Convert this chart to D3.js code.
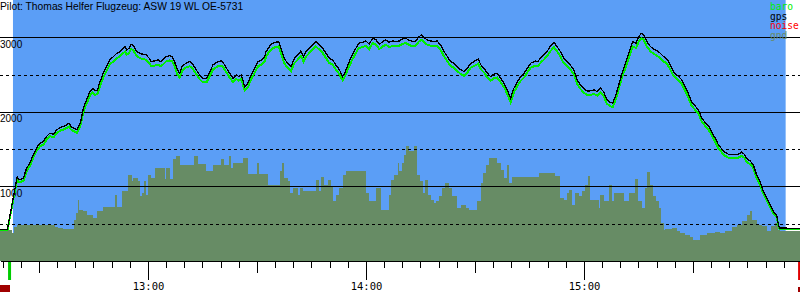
<!DOCTYPE html>
<html>
<head>
<meta charset="utf-8">
<script src="https://cdn.jsdelivr.net/npm/d3@7"></script>
<style>
body { margin: 0; background: #fff; }
svg { display: block; }
</style>
</head>
<body>
<div id="vis"></div>
<script>
// all times are minutes after 12:00, altitudes in metres

const title = "Pilot: Thomas Helfer Flugzeug: ASW 19 WL OE-5731"

const viewRange = [19.27, 239.45]   // visible time span
const flightRange = [22.84, 235.5]  // blue sky = logged flight
const markerTimes = [21.9, 239.2]   // start / end handles

const gpsTime = [
  19.3, 21.3, 24.0, 24.6, 25.7, 26.6, 27.5, 28.4, 29.4, 30.3, 31.2, 32.1, 33.0, 34.0, 34.9, 35.8, 36.7, 37.6, 38.3, 38.8,
  39.6, 40.4, 40.9, 41.5, 42.2, 42.7, 43.3, 44.0, 44.8, 45.4, 46.1, 46.8, 47.7, 48.6, 49.5, 50.5, 51.4, 52.3, 53.2, 53.7,
  54.1, 54.8, 55.3, 56.0,
  56.8, 57.7, 58.6, 59.5, 60.5, 60.9, 61.8, 62.8, 63.4, 64.1, 65.0, 66.0, 66.7, 67.3, 68.1, 68.7, 69.4, 70.4, 71.5, 72.4,
  73.3, 74.2, 75.1, 76.1, 76.8, 77.9, 79.3, 80.2, 80.8, 81.6, 82.5, 83.4, 84.3, 85.0, 85.7, 86.6, 87.5, 88.4, 89.4, 90.3,
  91.2, 92.1,
  92.5, 93.4, 94.3, 95.2, 96.0, 96.6, 97.5, 98.4, 99.4, 100.3, 101.2, 102.1, 102.8, 103.5, 104.4, 105.3, 106.2, 107.2, 108.1, 109.0,
  109.9, 110.8, 111.7, 112.7, 113.6, 114.3, 115.2, 116.2, 117.1, 118.0, 119.1, 120.0, 120.9, 121.8, 122.8, 123.7, 124.6, 125.5, 126.4, 127.3,
  128.3, 129.2,
  130.0, 130.9, 131.8, 132.8, 133.7, 134.6, 135.3, 136.0, 136.9, 137.8, 138.7, 139.6, 140.5, 141.5, 142.4, 143.3, 144.2, 145.1, 146.1, 147.0,
  147.9, 148.8, 149.7, 150.9, 151.6, 152.5, 153.4, 154.3, 155.2, 156.1, 157.1, 158.0, 158.9, 159.8, 160.7, 161.7, 162.6, 163.5, 164.4, 165.3,
  166.6, 167.3, 168.0, 168.9, 169.8, 170.7, 171.7, 172.6, 173.5, 174.4, 175.3, 176.2, 177.2, 178.1, 179.0, 179.9, 180.8, 181.7, 182.7, 183.6,
  184.5, 185.4, 186.3, 187.2, 187.9, 188.8, 189.7, 190.6, 191.6, 192.5, 193.4, 194.3, 195.1, 195.8, 196.4, 197.3, 198.3, 199.2, 200.1, 201.0,
  201.9,
  202.3, 203.0, 203.7, 204.6, 205.5, 206.1, 206.9, 207.8, 208.7, 209.6, 210.5, 211.5, 212.4, 213.3, 214.2, 215.1, 216.1, 217.0, 217.9, 218.8,
  219.7, 220.6, 221.6, 222.5, 223.4, 224.1, 224.8, 225.7, 226.6, 227.5, 228.4, 229.4, 230.3, 231.2, 232.1, 233.0, 233.5, 233.9, 239.45
]

const gpsAlt = [
  424, 424, 1125, 1089, 1112, 1246, 1313, 1424, 1522, 1580, 1603, 1670, 1714, 1701, 1759, 1790, 1804, 1826, 1848, 1804,
  1781, 1759, 1804, 1871, 2049, 2116, 2183, 2272, 2317, 2281, 2295, 2406, 2518, 2607, 2697, 2741, 2786, 2808, 2853, 2875,
  2830, 2853, 2906, 2888,
  2817, 2786, 2772, 2763, 2710, 2674, 2683, 2697, 2674, 2697, 2741, 2755, 2741, 2674, 2563, 2518, 2607, 2652, 2674, 2630,
  2563, 2496, 2451, 2451, 2518, 2630, 2674, 2683, 2652, 2585, 2518, 2451, 2496, 2473, 2496, 2339, 2384, 2496, 2585, 2674,
  2697, 2741,
  2808, 2875, 2920, 2933, 2942, 2853, 2719, 2652, 2607, 2719, 2763, 2817, 2741, 2808, 2853, 2897, 2942, 2897, 2853, 2786,
  2719, 2697, 2630, 2563, 2473, 2540, 2652, 2763, 2844, 2920, 2933, 2951, 2906, 2987, 2964, 2906, 2942, 2964, 2933, 2951,
  2942, 2951,
  2978, 2987, 2964, 2942, 2951, 3009, 3031, 2996, 2964, 2951, 2942, 2951, 2897, 2808, 2741, 2674, 2652, 2607, 2563, 2540,
  2585, 2652, 2674, 2710, 2630, 2585, 2518, 2473, 2505, 2518, 2451, 2384, 2295, 2183, 2317, 2406, 2473, 2518, 2585, 2652,
  2683, 2674, 2719, 2763, 2808, 2875, 2933, 2875, 2808, 2719, 2674, 2630, 2563, 2429, 2362, 2317, 2281, 2281, 2295, 2272,
  2317, 2272, 2161, 2130, 2116, 2228, 2384, 2540, 2674, 2808, 2942, 2920, 3009, 3054, 3031, 2942, 2875, 2844, 2817, 2786,
  2741,
  2728, 2697, 2630, 2540, 2496, 2473, 2429, 2339, 2250, 2138, 2085, 2027, 1915, 1862, 1817, 1737, 1647, 1558, 1505, 1460,
  1433, 1424, 1424, 1433, 1460, 1433, 1371, 1344, 1290, 1156, 1067, 933, 844, 755, 665, 621, 487, 442, 437
]

const baroAlt = [
  410, 410, 1100, 1055, 1075, 1205, 1275, 1385, 1480, 1540, 1560, 1628, 1672, 1660, 1716, 1748, 1762, 1784, 1806, 1762,
  1740, 1716, 1762, 1828, 2000, 2065, 2130, 2218, 2262, 2226, 2240, 2350, 2462, 2550, 2638, 2678, 2722, 2744, 2788, 2810,
  2766, 2788, 2842, 2824,
  2752, 2722, 2708, 2698, 2646, 2612, 2620, 2634, 2612, 2634, 2676, 2690, 2676, 2612, 2505, 2460, 2548, 2592, 2612, 2570,
  2505, 2440, 2395, 2395, 2460, 2570, 2612, 2620, 2592, 2528, 2460, 2395, 2440, 2418, 2440, 2285, 2330, 2440, 2528, 2612,
  2634, 2676,
  2743, 2810, 2855, 2868, 2877, 2788, 2655, 2592, 2548, 2655, 2698, 2752, 2676, 2743, 2788, 2832, 2877, 2832, 2788, 2722,
  2655, 2634, 2570, 2505, 2418, 2484, 2592, 2698, 2779, 2855, 2868, 2886, 2842, 2922, 2899, 2842, 2877, 2899, 2868, 2886,
  2877, 2886,
  2913, 2922, 2899, 2877, 2886, 2944, 2966, 2931, 2899, 2886, 2877, 2886, 2832, 2743, 2676, 2612, 2592, 2548, 2505, 2484,
  2528, 2592, 2612, 2646, 2570, 2528, 2460, 2418, 2450, 2460, 2395, 2330, 2240, 2130, 2262, 2350, 2418, 2460, 2528, 2592,
  2620, 2612, 2655, 2698, 2743, 2810, 2868, 2810, 2743, 2655, 2612, 2570, 2505, 2375, 2308, 2262, 2226, 2226, 2240, 2218,
  2262, 2218, 2108, 2078, 2063, 2174, 2330, 2484, 2612, 2743, 2877, 2855, 2944, 2989, 2966, 2877, 2810, 2779, 2752, 2722,
  2676,
  2664, 2634, 2570, 2484, 2440, 2418, 2375, 2285, 2196, 2085, 2032, 1977, 1868, 1815, 1770, 1690, 1600, 1512, 1458, 1412,
  1385, 1376, 1376, 1385, 1412, 1385, 1325, 1300, 1248, 1118, 1030, 898, 810, 725, 640, 600, 470, 428, 425
]

const gndTime = [
  19.27, 22.6, 23.1, 23.9, 24.4, 34.4, 35.3, 36.7, 39.5, 40.2, 40.6, 41.1, 42.2, 43.1, 44.9, 46.1, 47.7, 50.9, 51.6, 52.8,
  54.6, 55.5, 55.9, 57.2, 57.7, 58.4, 58.8, 59.5, 60.0, 60.9, 61.8, 64.6, 65.0, 66.1, 66.9, 67.8, 68.9, 72.8, 73.8, 76.1,
  77.9, 80.2, 80.8, 82.3, 82.9, 83.4, 86.1, 87.5, 90.1, 90.6, 92.9, 96.2, 96.9, 97.5, 98.4, 99.1, 99.8, 101.2, 101.7, 102.6,
  106.2, 107.2, 107.6, 108.5, 109.5, 110.4, 110.8, 111.7, 112.5, 113.6, 114.5, 120.0, 120.9, 122.8, 124.1, 126.2, 126.9, 127.8, 128.7, 129.1,
  129.8, 130.5, 131.1, 131.8, 133.2, 134.1, 135.0, 135.7, 136.2, 137.2, 137.8, 138.7, 139.4, 140.1, 140.8, 141.7, 142.8, 143.8, 145.1, 146.1,
  147.4, 148.3, 150.6, 151.6, 152.2, 153.1, 153.9, 156.1, 157.1, 158.0, 158.9, 159.4, 160.3, 167.5, 172.1, 173.5, 174.4, 175.3, 175.8, 176.7,
  177.6, 178.5, 179.5, 180.4, 181.1, 181.7, 184.0, 184.5, 185.4, 186.8, 187.7, 188.2, 190.9, 192.3, 194.1, 194.9, 196.0, 196.7, 197.3, 198.3,
  198.9, 199.8, 200.7, 201.3, 201.9, 202.3, 204.1, 205.5, 206.4, 207.8, 209.2, 210.1, 211.9, 213.8, 216.1, 217.4, 218.8, 220.6, 222.0, 223.4,
  224.8, 225.7, 226.3, 227.5, 228.9, 230.3, 231.6, 232.6, 233.3, 233.9, 239.45
]

const gndAlt = [
  411, 380, 451, 478, 487, 451, 442, 424, 554, 643, 821, 688, 665, 621, 576, 665, 719, 889, 719, 933,
  1156, 1067, 1112, 1067, 866, 911, 1067, 888, 1156, 1112, 1246, 1103, 1246, 1103, 1371, 1406, 1290, 1406, 1299, 1201,
  1290, 1366, 1290, 1406, 1246, 1313, 1380, 1165, 1313, 1165, 1022, 1201, 1313, 1112, 1067, 911, 978, 888, 978, 933,
  1089, 933, 1121, 1022, 1089, 1000, 799, 888, 978, 1156, 1201, 911, 799, 978, 688, 888, 1089, 1156, 1313, 1210,
  1313, 1424, 1536, 1469, 1536, 1156, 1067, 911, 1089, 888, 821, 777, 799, 866, 978, 1045, 978, 866, 710, 755,
  710, 688, 799, 1045, 1179, 1290, 1380, 1313, 1223, 1112, 1290, 1045, 1125, 1174, 1134, 844, 821, 911, 955, 754,
  911, 866, 933, 1022, 1134, 821, 710, 888, 799, 1022, 799, 911, 799, 911, 1103, 799, 710, 978, 1192, 1022,
  866, 799, 710, 509, 420, 429, 442, 406, 375, 353, 317, 286, 344, 375, 388, 375, 406, 451, 487, 531,
  621, 674, 554, 487, 464, 406, 464, 509, 420, 406, 406
]

const gridValues = [500, 1000, 1500, 2000, 2500, 3000]
const labelValues = [1000, 2000, 3000]

const legendNames = ["baro", "gps", "noise", "gnd"]
const legendColors = ["#00ee00", "#000000", "#ff0000", "#688c66"]

// layout
const width = 800, height = 300
const plotBottom = 261
const skyColor = "#5b9ef6"
const groundColor = "#678c65"

const base = new Date(2000, 0, 1, 12, 0, 0)
const toDate = m => new Date(base.getTime() + m * 60000)

const x = d3.scaleTime()
  .domain([toDate(viewRange[0]), toDate(viewRange[1])])
  .range([0, width])
const y = d3.scaleLinear().domain([0, 3500]).range([plotBottom, 0])

const svg = d3.select("#vis").append("svg")
  .attr("width", width)
  .attr("height", height)
  .style("background", "#fff")

// sky (flight span only)
svg.append("rect")
  .attr("x", x(toDate(flightRange[0])))
  .attr("y", 0)
  .attr("width", x(toDate(flightRange[1])) - x(toDate(flightRange[0])))
  .attr("height", plotBottom)
  .attr("fill", skyColor)

// ground profile
const gnd = gndTime.map((t, i) => ({t: toDate(t), v: gndAlt[i]}))
svg.append("path")
  .datum(gnd)
  .attr("fill", groundColor)
  .attr("shape-rendering", "crispEdges")
  .attr("d", d3.area().curve(d3.curveStepAfter)
    .x(d => x(d.t)).y0(y(0)).y1(d => y(d.v)))

// horizontal grid
svg.append("g").selectAll("line")
  .data(gridValues)
  .join("line")
  .attr("x1", 0).attr("x2", width)
  .attr("y1", d => Math.round(y(d)) + 0.5)
  .attr("y2", d => Math.round(y(d)) + 0.5)
  .attr("stroke", "#000")
  .attr("stroke-width", 1)
  .attr("stroke-dasharray", d => d % 1000 ? "3,3" : null)
  .attr("shape-rendering", "crispEdges")

svg.append("g").selectAll("text")
  .data(labelValues)
  .join("text")
  .attr("x", 0)
  .attr("y", d => y(d) + 10.5)
  .style("font", "10px 'Liberation Sans', Arial, sans-serif")
  .text(d => d)

// baro + gps traces
const line = d3.line().x(d => x(d.t)).y(d => y(d.v))
const baro = gpsTime.map((t, i) => ({t: toDate(t), v: baroAlt[i]}))
const gps = gpsTime.map((t, i) => ({t: toDate(t), v: gpsAlt[i]}))

svg.append("path").datum(baro)
  .attr("fill", "none").attr("stroke", "#00ee00").attr("stroke-width", 2)
  .attr("shape-rendering", "crispEdges")
  .attr("d", line)
svg.append("path").datum(gps)
  .attr("fill", "none").attr("stroke", "#000").attr("stroke-width", 1.3)
  .attr("shape-rendering", "crispEdges")
  .attr("d", line)

// title
svg.append("text")
  .attr("x", 0).attr("y", 9.5)
  .style("font", "10.3px 'Liberation Sans', Arial, sans-serif")
  .text(title)

// legend
svg.append("g").selectAll("text")
  .data(legendNames)
  .join("text")
  .attr("x", 770)
  .attr("y", (d, i) => 10 + i * 9.6)
  .attr("fill", (d, i) => legendColors[i])
  .style("font", "9.6px 'DejaVu Sans Mono', monospace")
  .text(d => d)

// time axis
const axis = d3.axisBottom(x)
  .ticks(d3.timeMinute.every(5))
  .tickSize(7)
  .tickSizeOuter(0)
  .tickFormat(d => d.getMinutes() === 0 ? d3.timeFormat("%H:%M")(d) : "")

const gAxis = svg.append("g")
  .attr("transform", `translate(0,${plotBottom})`)
  .call(axis)
gAxis.select(".domain").attr("stroke", "#000").attr("shape-rendering", "crispEdges")
gAxis.selectAll(".tick line")
  .attr("stroke", "#000")
  .attr("shape-rendering", "crispEdges")
  .attr("y2", d => d.getMinutes() === 0 ? 19 : d.getMinutes() === 30 ? 12 : 7)
gAxis.selectAll(".tick text")
  .attr("y", 29).attr("dy", 0)
  .attr("fill", "#000")
  .style("font", "10.5px 'DejaVu Sans Mono', monospace")

// start / end handles
svg.append("rect")
  .attr("x", x(toDate(markerTimes[0])) - 1.5).attr("y", plotBottom + 1)
  .attr("width", 3).attr("height", 18)
  .attr("fill", "#00cc00")
svg.append("rect")
  .attr("x", 0).attr("y", 285)
  .attr("width", 10).attr("height", 7)
  .attr("fill", "#a00000")
svg.append("rect")
  .attr("x", x(toDate(markerTimes[1])) - 1).attr("y", plotBottom + 1)
  .attr("width", 3).attr("height", 18)
  .attr("fill", "#e00000")
svg.append("rect")
  .attr("x", 798).attr("y", 287)
  .attr("width", 2).attr("height", 5)
  .attr("fill", "#a00000")
</script>
</body>
</html>
